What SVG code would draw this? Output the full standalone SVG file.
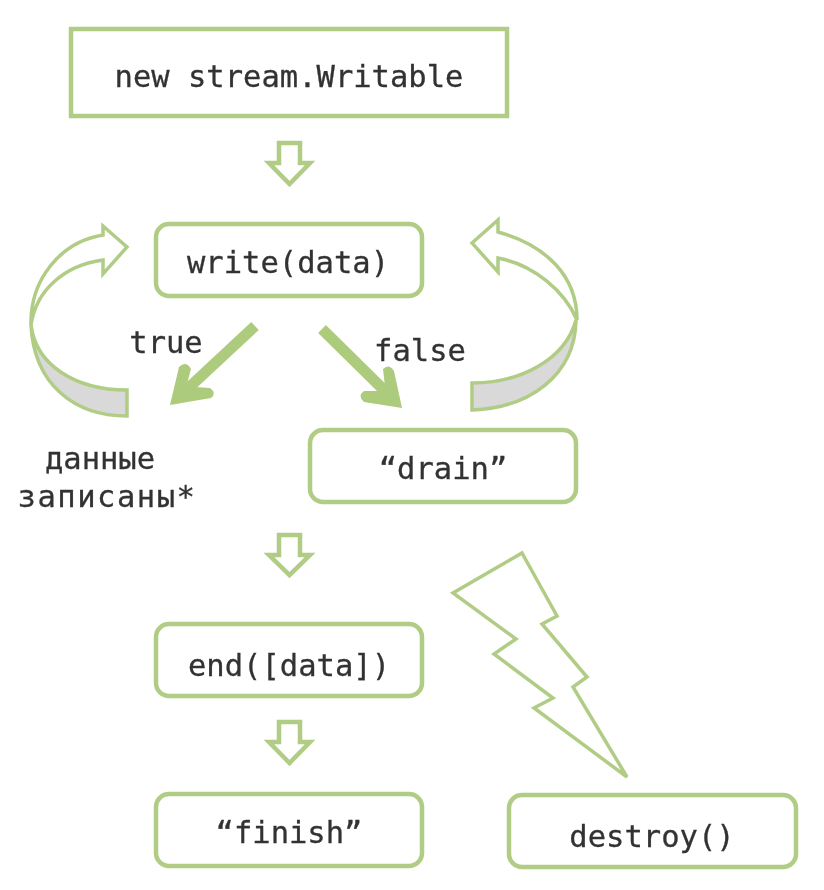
<svg xmlns="http://www.w3.org/2000/svg" width="824" height="890" viewBox="0 0 824 890">
<defs><filter id="soft" x="0" y="0" width="100%" height="100%" filterUnits="userSpaceOnUse" primitiveUnits="userSpaceOnUse"><feGaussianBlur stdDeviation="0.6"/></filter></defs>
<style>
.box{fill:#fff;stroke:#b0cc85;stroke-width:4.500}
.block{fill:#fff;stroke:#b0cc85;stroke-width:4.500;stroke-linejoin:miter}
.line{fill:#fff;stroke:#b0cc85;stroke-width:3.500;stroke-linejoin:miter}
.thin{fill:#fff;stroke:#b0cc85;stroke-width:3.500;stroke-linejoin:miter}
.shade{fill:#d9d9d9;stroke:#b0cc85;stroke-width:3.500}
.thick{fill:none;stroke:#adcb7c;stroke-width:11}
.head{fill:#adcb7c;stroke:none}
text{font-family:"DejaVu Sans Mono","Liberation Mono",monospace;font-size:30.500px;fill:#333;stroke:#333;stroke-width:.3;text-anchor:middle}
</style>
<rect width="824" height="890" fill="#fff"/>
<g filter="url(#soft)">
<g id="connectors">
<path class="block" d="M279 143H300V163H310L289.500 184L269 163H279Z"/>
<path class="block" d="M279 535H300V555H310L289.500 575L269 555H279Z"/>
<path class="block" d="M279 722H300V742H310L289.500 763L269 742H279Z"/>
<path class="thick" d="M255 326L182 394"/>
<path class="head" d="M170 405L179 367Q186 360 191 369L187 384L195 387L210 388Q217 393 211 398Z"/>
<path class="thick" d="M322 329L391 397"/>
<path class="head" d="M402 408L394 371Q389 363 383 369L385 387L380 391L364 391Q357 396 364 402Z"/>
<path class="shade" d="M31 325C36 365 75 390 127 390V416C75 416 34 385 31 325Z"/>
<path class="line" d="M127 247L103 226V235C60 242 30 280 31 325C36 290 65 265 103 260V274Z"/>
<path class="shade" d="M576 320C565 360 520 383 472 383V410C530 408 575 375 576 320Z"/>
<path class="line" d="M472 243L498 220V232C545 245 577 275 577 320C565 292 535 265 498 258V272Z"/>
</g>
<g id="n1"><rect class="box" x="71" y="29" width="436" height="87"/><text x="289" y="87">new stream.Writable</text></g>
<g id="n2"><rect class="box" x="156" y="224" width="266" height="72" rx="13"/><text x="288" y="273">write(data)</text></g>
<g id="n3"><text x="166" y="353">true</text></g>
<g id="n4"><text x="420" y="361">false</text></g>
<g id="n5"><text x="100" y="469">данные</text><text x="107" y="507" letter-spacing="1.500">записаны*</text></g>
<g id="n6"><rect class="box" x="310" y="430" width="266" height="72" rx="13"/><text x="443" y="479">“drain”</text></g>
<g id="n7"><rect class="box" x="156" y="624" width="266" height="72" rx="13"/><text x="289" y="676">end([data])</text></g>
<g id="n8"><rect class="box" x="156" y="794" width="266" height="72" rx="13"/><text x="289" y="843">“finish”</text></g>
<g id="n9"><rect class="box" x="509" y="795" width="287" height="72" rx="13"/><text x="652" y="847">destroy()</text></g>
<g id="n10"><path class="thin" d="M522 553L557 616L542 624L587 677L573 687L627 777L534 708L553 698L494 654L516 639L453 593Z"/></g>
</g>
</svg>
